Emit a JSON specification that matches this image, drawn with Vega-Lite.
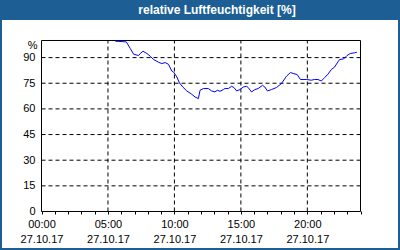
{
  "$schema": "https://vega.github.io/schema/vega-lite/v6.json",
  "background": "#1d5f95",
  "padding": {"left": 2, "right": 2, "top": 0, "bottom": 2},
  "spacing": 0,
  "config": {
    "view": {"stroke": null},
    "font": "Liberation Sans",
    "axis": {"labelOverlap": false, "labelSeparation": 0},
    "axisX": {"labelOverlap": false},
    "axisY": {"labelOverlap": false},
    "axisQuantitative": {"labelOverlap": false}
  },
  "datasets": {
    "rh": [
      {"t": 5.55, "v": 99.6}, {"t": 6.38, "v": 99.2}, {"t": 6.68, "v": 95.3}, {"t": 6.93, "v": 92.0},
      {"t": 7.3, "v": 91.2}, {"t": 7.43, "v": 92.4}, {"t": 7.63, "v": 93.7}, {"t": 7.93, "v": 92.4},
      {"t": 8.18, "v": 90.8}, {"t": 8.43, "v": 88.9}, {"t": 8.8, "v": 87.3}, {"t": 9.05, "v": 86.5},
      {"t": 9.3, "v": 87.1}, {"t": 9.55, "v": 86.1}, {"t": 9.8, "v": 82.2}, {"t": 9.93, "v": 81.6},
      {"t": 10.18, "v": 78.7}, {"t": 10.38, "v": 75.2}, {"t": 10.63, "v": 72.8}, {"t": 10.93, "v": 70.5},
      {"t": 11.3, "v": 68.6}, {"t": 11.55, "v": 67.0}, {"t": 11.8, "v": 66.0}, {"t": 11.93, "v": 70.9},
      {"t": 12.18, "v": 71.9}, {"t": 12.55, "v": 71.9}, {"t": 12.8, "v": 70.5}, {"t": 13.05, "v": 69.9},
      {"t": 13.23, "v": 70.9}, {"t": 13.43, "v": 70.3}, {"t": 13.68, "v": 71.3}, {"t": 13.8, "v": 71.9},
      {"t": 14.05, "v": 71.9}, {"t": 14.3, "v": 73.2}, {"t": 14.48, "v": 72.5}, {"t": 14.68, "v": 70.5},
      {"t": 14.93, "v": 71.3}, {"t": 15.18, "v": 72.8}, {"t": 15.43, "v": 73.2}, {"t": 15.55, "v": 72.5},
      {"t": 15.8, "v": 69.9}, {"t": 16.05, "v": 71.3}, {"t": 16.3, "v": 71.9}, {"t": 16.63, "v": 73.8},
      {"t": 16.8, "v": 72.8}, {"t": 17.0, "v": 70.5}, {"t": 17.3, "v": 71.3}, {"t": 17.68, "v": 72.5},
      {"t": 18.05, "v": 74.8}, {"t": 18.43, "v": 79.1}, {"t": 18.73, "v": 81.3}, {"t": 18.93, "v": 80.7},
      {"t": 19.23, "v": 80.1}, {"t": 19.48, "v": 77.2}, {"t": 19.68, "v": 77.2}, {"t": 19.93, "v": 77.2},
      {"t": 20.3, "v": 76.8}, {"t": 20.55, "v": 77.2}, {"t": 20.8, "v": 77.2}, {"t": 21.05, "v": 76.3},
      {"t": 21.3, "v": 78.3}, {"t": 21.55, "v": 80.3}, {"t": 21.8, "v": 83.0}, {"t": 22.05, "v": 84.5},
      {"t": 22.3, "v": 87.5}, {"t": 22.43, "v": 88.9}, {"t": 22.73, "v": 89.2}, {"t": 22.98, "v": 91.2},
      {"t": 23.23, "v": 92.4}, {"t": 23.55, "v": 92.8}, {"t": 23.73, "v": 93.2}
    ],
    "gx": [{"h": 5}, {"h": 10}, {"h": 15}, {"h": 20}],
    "gy": [{"p": 15}, {"p": 30}, {"p": 45}, {"p": 60}, {"p": 75}, {"p": 90}],
    "frame": [{"x0": 0, "x1": 24, "y0": 0, "y1": 100}]
  },
  "vconcat": [
    {
      "width": 396,
      "height": 20,
      "data": {"values": [{"label": "relative Luftfeuchtigkeit [%]"}]},
      "mark": {"type": "text", "color": "white", "fontWeight": "bold", "font": "Liberation Sans", "fontSize": 12, "dx": 17, "baseline": "middle", "align": "center"},
      "encoding": {"text": {"field": "label", "type": "nominal"}}
    },
    {
      "width": 396,
      "height": 228,
      "view": {"fill": "white", "stroke": null},
      "encoding": {
        "x": {
          "type": "quantitative",
          "scale": {"domain": [-2.972, 26.821], "nice": false, "zero": false},
          "axis": {
            "title": null, "offset": -37, "domain": false, "grid": false,
            "values": [0,1,2,3,4,5,6,7,8,9,10,11,12,13,14,15,16,17,18,19,20,21,22,23,24],
            "ticks": true, "tickSize": 3, "tickColor": "black", "tickWidth": 1,
            "labelExpr": "datum.value % 5 == 0 && datum.value < 24 ? [(datum.value < 10 ? '0' : '') + datum.value + ':00', '27.10.17'] : ''",
            "labelFont": "Liberation Sans", "labelFontSize": 11, "labelColor": "black",
            "labelPadding": 4, "labelLineHeight": 15, "labelOverlap": false, "labelFlush": false, "labelBound": false
          }
        },
        "y": {
          "type": "quantitative",
          "scale": {"domain": [-21.345, 111.988], "nice": false, "zero": false},
          "axis": {
            "title": "%", "titleAngle": 0, "titleAlign": "right", "titleBaseline": "middle",
            "titleX": -4, "titleY": 25, "titleFont": "Liberation Sans", "titleFontSize": 11,
            "titleFontWeight": "normal", "titleColor": "black",
            "offset": -39, "domain": false, "grid": false, "ticks": false, "tickSize": 0,
            "values": [0, 15, 30, 45, 60, 75, 90],
            "labelFont": "Liberation Sans", "labelFontSize": 11, "labelColor": "black",
            "labelPadding": 6, "labelBaseline": "middle", "labelOverlap": false, "labelBound": false
          }
        }
      },
      "layer": [
        {
          "data": {"name": "gx"},
          "mark": {"type": "rule", "color": "black", "strokeWidth": 1, "strokeDash": [4, 3]},
          "encoding": {
            "x": {"field": "h"},
            "y": {"datum": 0},
            "y2": {"datum": 100}
          }
        },
        {
          "data": {"name": "gy"},
          "mark": {"type": "rule", "color": "black", "strokeWidth": 1, "strokeDash": [4, 3]},
          "encoding": {
            "y": {"field": "p"},
            "x": {"datum": 0},
            "x2": {"datum": 24}
          }
        },
        {
          "data": {"name": "frame"},
          "mark": {"type": "rect", "fillOpacity": 0, "stroke": "black", "strokeWidth": 1},
          "encoding": {
            "x": {"field": "x0"},
            "x2": {"field": "x1"},
            "y": {"field": "y0"},
            "y2": {"field": "y1"}
          }
        },
        {
          "data": {"name": "rh"},
          "mark": {"type": "line", "color": "#0000ff", "strokeWidth": 1},
          "encoding": {
            "x": {"field": "t"},
            "y": {"field": "v"}
          }
        }
      ]
    }
  ]
}
